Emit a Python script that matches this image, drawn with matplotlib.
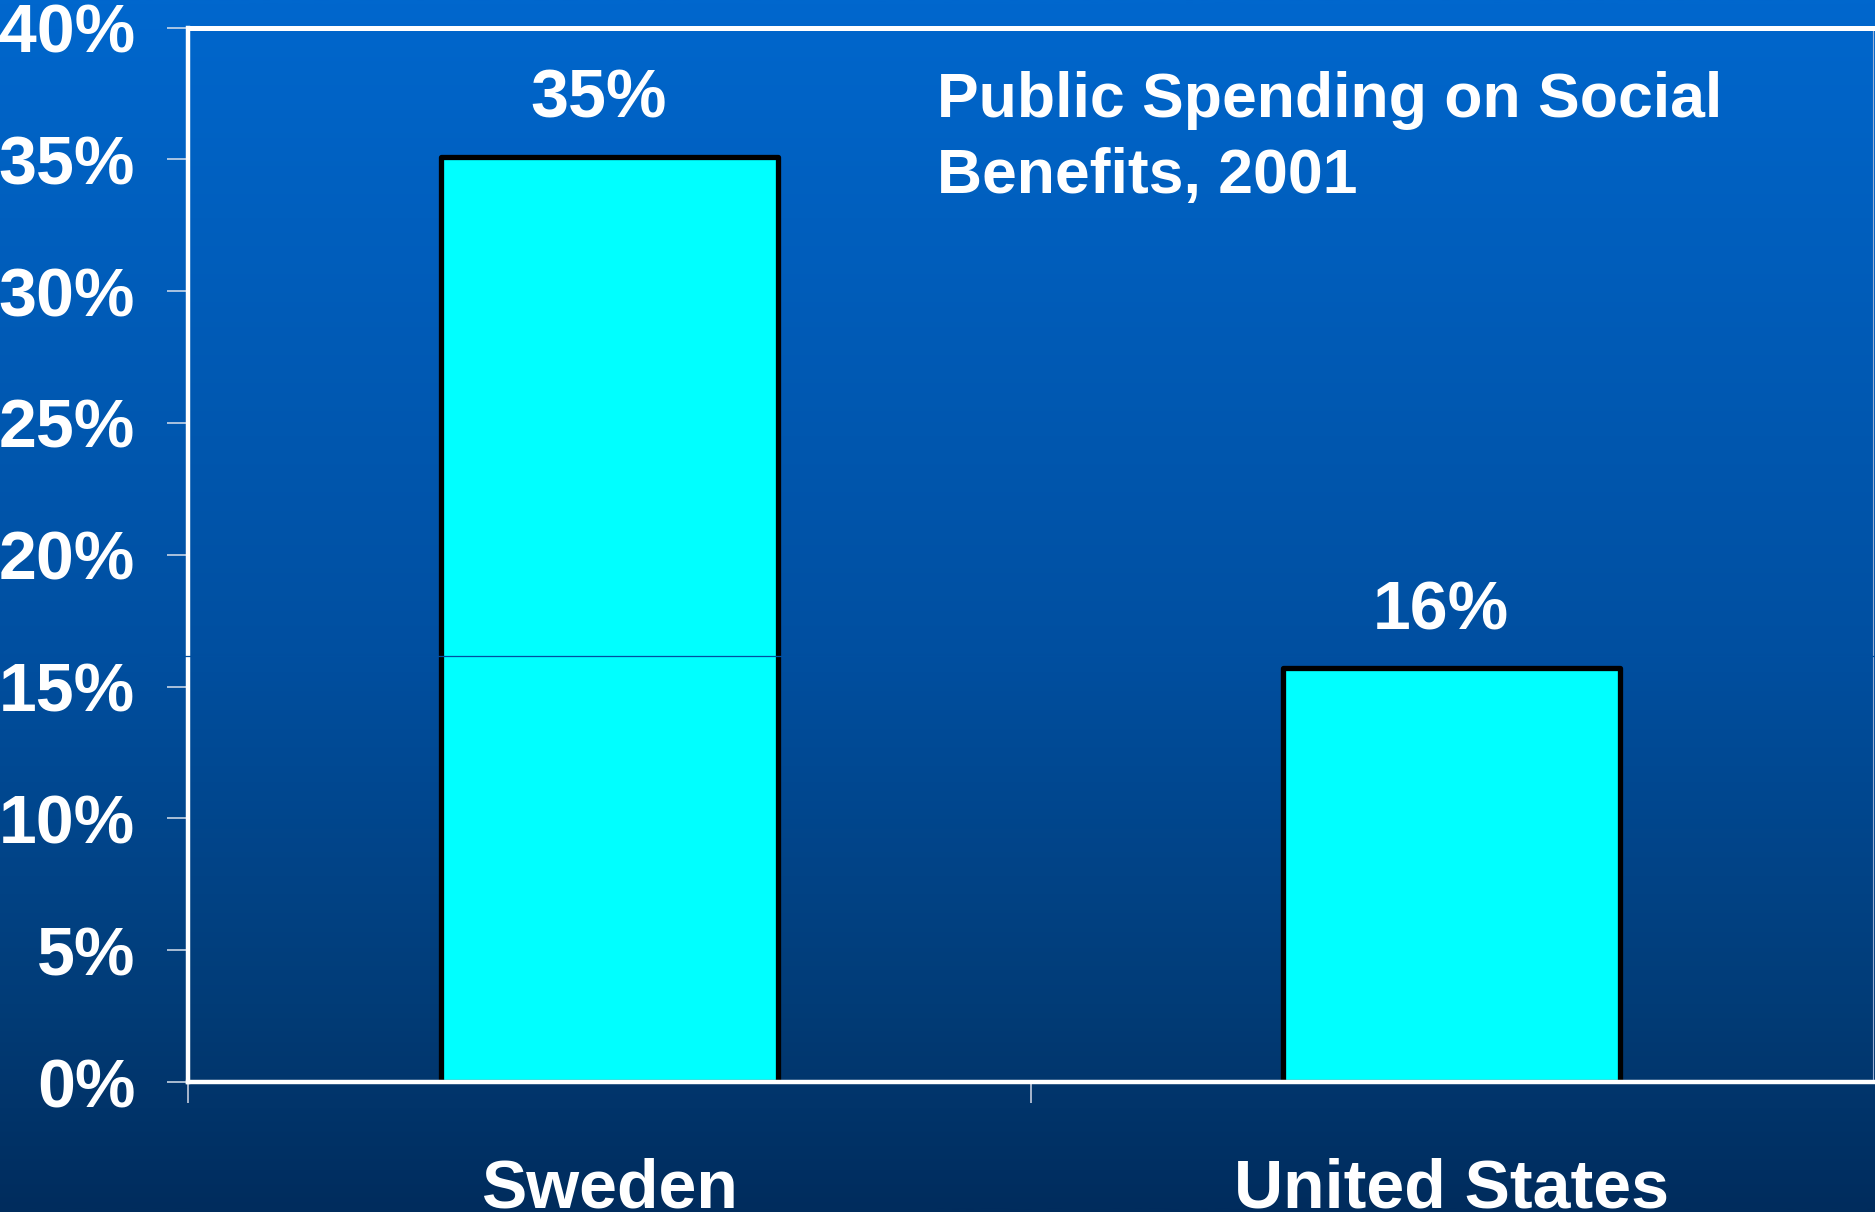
import numpy as np
import matplotlib
matplotlib.use("Agg")
import matplotlib.pyplot as plt
from matplotlib.colors import LinearSegmentedColormap
from matplotlib.lines import Line2D

# Data
countries = ["Sweden", "United States"]
spending_pct = [35.1, 15.7]
y_ticks = [0, 5, 10, 15, 20, 25, 30, 35, 40]
title_lines = ["Public Spending on Social", "Benefits, 2001"]

FONT = "Liberation Sans"
W, H, DPI = 1875, 1212, 100

fig = plt.figure(figsize=(W / DPI, H / DPI), dpi=DPI)

# Vertical blue gradient background
bg_cmap = LinearSegmentedColormap.from_list(
    "slide_bg",
    [(0.0, "#002C5D"), (0.17, "#023C77"), (0.46, "#004FA0"), (1.0, "#0067CD")],
)
bg = fig.add_axes([0, 0, 1, 1], zorder=-10)
grad = np.linspace(0, 1, 512).reshape(-1, 1)
bg.imshow(grad, aspect="auto", cmap=bg_cmap, origin="lower", extent=[0, 1, 0, 1])
bg.set_axis_off()

ax = fig.add_axes([188 / W, 1 - 1082 / H, (1873 - 188) / W, (1082 - 27.5) / H])
ax.set_facecolor("none")

x = np.arange(len(countries)) + 0.5
ax.bar(x, spending_pct, width=0.4, color="#00FFFF", edgecolor="black",
       linewidth=3.8, joinstyle="round", zorder=2)

for xi, v in zip(x, spending_pct):
    ax.annotate(f"{v:.0f}%", xy=(xi, v), xytext=(-8, 28), textcoords="offset points",
                ha="center", va="baseline", color="white", fontsize=49,
                fontweight="bold", family=FONT)

ax.set_xlim(0, 2)
ax.set_ylim(0, 40)

ax.set_yticks(y_ticks)
ax.set_yticklabels([f"{t}%" for t in y_ticks])
ax.tick_params(axis="y", length=15, width=1.1, color="#D8E0EC", pad=23,
               labelcolor="white", labelsize=49)

ax.set_xticks(x)
ax.set_xticklabels(countries)
ax.set_xticks([0, 1], minor=True)
ax.tick_params(axis="x", which="major", length=0, pad=54, labelcolor="white",
               labelsize=49)
ax.tick_params(axis="x", which="minor", length=15, width=1.4, color="#A8B6CC")

for lab in ax.get_xticklabels() + ax.get_yticklabels():
    lab.set_fontfamily(FONT)
    lab.set_fontweight("bold")

for side in ("top", "left", "bottom"):
    ax.spines[side].set_color("white")
    ax.spines[side].set_linewidth(3.2)
ax.spines["top"].set_linewidth(3.6)
ax.spines["right"].set_color("#9DB4D8")
ax.spines["right"].set_linewidth(0.8)

# Title block
for i, line in enumerate(title_lines):
    fig.text(937 / W, 1 - (117 + 76 * i) / H, line, ha="left", va="baseline",
             color="white", fontsize=45, fontweight="bold", family=FONT)

# Thin seam line crossing the plot at mid height
seam_y = 1 - 656 / H
fig.add_artist(Line2D([150 / W, 1], [seam_y, seam_y], transform=fig.transFigure,
                      color=bg_cmap(seam_y), linewidth=0.9, zorder=10))

fig.savefig("out.png", dpi=DPI)
